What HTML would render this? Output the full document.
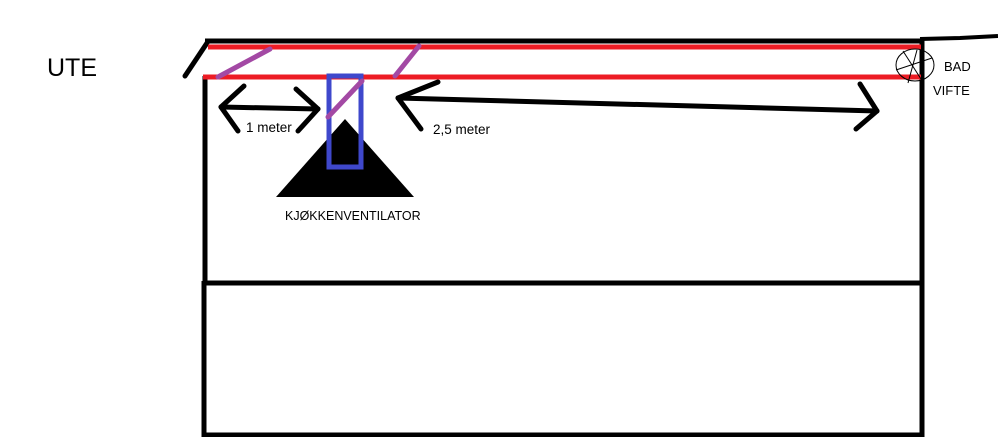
<!DOCTYPE html>
<html><head><meta charset="utf-8"><style>
html,body{margin:0;padding:0;background:#fff;}
svg{display:block;}
text{font-family:"Liberation Sans",sans-serif;fill:#000;}
</style></head><body>
<svg width="998" height="437" viewBox="0 0 998 437" xmlns="http://www.w3.org/2000/svg">
<g stroke="#000" stroke-width="5" fill="none" stroke-linecap="butt">
<line x1="205" y1="41" x2="922" y2="41"/>
<polyline points="920,39 960,38 998,36" stroke-width="4"/>
<line x1="185" y1="76" x2="207" y2="43" stroke-linecap="round"/>
<line x1="205" y1="76" x2="205" y2="284"/>
<line x1="922" y1="40" x2="922" y2="437"/>
<line x1="204" y1="283" x2="924" y2="283"/>
<line x1="204" y1="281" x2="204" y2="437"/>
<line x1="202" y1="435" x2="924" y2="435"/>
</g>
<g stroke="#ed1c24" stroke-width="5">
<line x1="208" y1="47" x2="921" y2="47"/>
<line x1="203" y1="77" x2="921" y2="77"/>
</g>
<polygon points="345,119 276,197 414,197" fill="#000"/>
<rect x="329" y="76" width="32" height="91" fill="none" stroke="#3f48cc" stroke-width="5"/>
<g stroke="#a349a4" stroke-width="5" stroke-linecap="round">
<line x1="218" y1="77" x2="270" y2="49"/>
<line x1="395" y1="76" x2="419" y2="46"/>
<line x1="328" y1="117" x2="362" y2="81"/>
</g>
<g stroke="#000" stroke-width="5" fill="none" stroke-linecap="round" stroke-linejoin="round">
<line x1="221" y1="107" x2="318" y2="109"/>
<polyline points="244,86 221,107 238,131"/>
<polyline points="296,89 318,109 298,131"/>
<line x1="398" y1="98" x2="877" y2="111"/>
<polyline points="438,82 398,98 421,129"/>
<polyline points="860,84 877,111 856,129"/>
</g>
<ellipse cx="915" cy="65" rx="19" ry="16" fill="none" stroke="#000" stroke-width="1"/>
<g stroke="#000" stroke-width="1">
<line x1="896" y1="70" x2="932" y2="58"/>
<line x1="903" y1="51" x2="921" y2="79"/>
<line x1="917" y1="50" x2="908" y2="83"/>
</g>
<text x="47" y="76" font-size="25">UTE</text>
<text x="246" y="132" font-size="13.5">1 meter</text>
<text x="433" y="134" font-size="13.5">2,5 meter</text>
<text x="285" y="220" font-size="12.5">KJØKKENVENTILATOR</text>
<text x="944" y="71" font-size="13">BAD</text>
<text x="933" y="95" font-size="13">VIFTE</text>
</svg>
</body></html>
